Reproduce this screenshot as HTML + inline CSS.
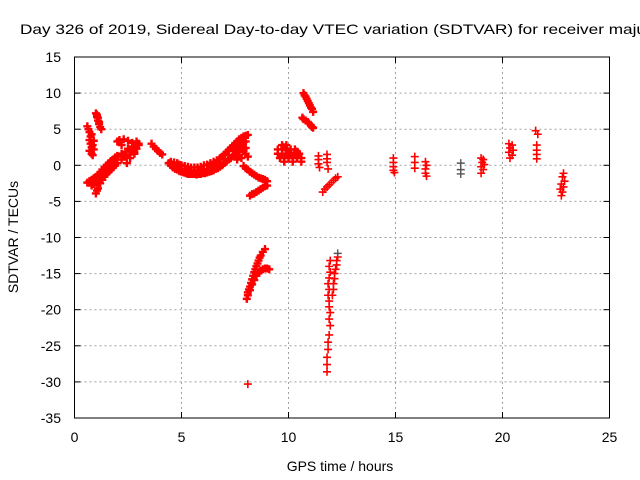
<!DOCTYPE html>
<html><head><meta charset="utf-8"><style>
html,body{margin:0;padding:0;background:#fff}
svg{display:block;font-family:"Liberation Sans",sans-serif}
</style></head><body>
<svg id="chart" width="640" height="480" viewBox="0 0 640 480" xmlns="http://www.w3.org/2000/svg">
<rect width="640" height="480" fill="#fff"/>
<text x="20" y="34" font-size="14" fill="#000" textLength="626" lengthAdjust="spacingAndGlyphs">Day 326 of 2019, Sidereal Day-to-day VTEC variation (SDTVAR) for receiver maju</text>
<g id="grid"></g><g id="marks"></g><g id="axes"></g>
<text x="340" y="471" font-size="14" text-anchor="middle">GPS time / hours</text>
<text transform="translate(18,237) rotate(-90)" font-size="14" text-anchor="middle">SDTVAR / TECUs</text>
</svg>
<script>
const xTicks=[0,5,10,15,20,25];
const yTicks=[15,10,5,0,-5,-10,-15,-20,-25,-30,-35];
const trackA=[[0.6,5.4],[0.65,5.0],[0.7,4.6],[0.75,4.0],[0.7,3.5],[0.75,3.0],[0.85,2.8],[0.9,3.4],[0.8,2.5],[0.7,2.0],[0.85,1.4],[0.8,1.6],[0.8,4.3],[0.9,2.2]];
const trackB=[[1.0,7.2],[1.05,7.0],[1.05,6.7],[1.1,6.2],[1.15,6.0],[1.15,5.7],[1.2,5.3],[1.25,5.0],[1.1,6.6]];
const trackC1=[[0.6,-2.4],[0.7,-2.2],[0.8,-2.0],[0.9,-1.8],[1.0,-1.6],[1.1,-1.3],[1.2,-1.0],[1.3,-0.6],[1.4,-0.3],[1.5,0.0],[1.6,0.3],[1.7,0.6],[1.8,0.8],[1.9,1.1],[2.0,1.3],[2.2,1.6],[2.4,1.9],[2.6,2.2],[2.8,2.5],[3.0,2.8]];
const trackC2=[[1.0,-3.9],[1.05,-3.5],[1.1,-3.2],[1.2,-2.5],[1.3,-2.0],[1.4,-1.6],[1.5,-1.2],[1.6,-0.9],[1.7,-0.6],[1.8,-0.3],[1.9,0.0],[2.0,0.3],[2.2,0.8],[2.4,1.2],[2.6,1.5],[2.8,1.8]];
const trackC3=[[0.8,-2.8],[0.9,-2.6],[1.0,-2.4],[1.1,-2.1],[1.2,-1.8],[1.3,-1.4],[1.4,-1.0],[1.5,-0.6],[1.6,-0.3],[1.7,0.0],[1.8,0.3],[2.0,0.8],[2.2,1.2],[2.4,1.5],[2.6,1.9],[2.8,2.2]];
const trackD=[[2.0,3.3],[2.1,3.5],[2.3,3.6],[2.5,3.4],[2.7,3.1],[2.9,3.3],[3.0,3.0],[2.9,2.3],[2.8,1.6],[2.6,1.0],[2.3,1.2],[2.5,2.3],[2.45,0.3],[2.7,2.6],[2.2,2.8]];
const trackE=[[3.6,3.0],[3.7,2.6],[3.8,2.3],[3.9,2.0],[4.0,1.7],[4.1,1.5]];
const trackF1=[[4.4,0.3],[4.5,0.0],[4.6,-0.3],[4.7,-0.5],[4.8,-0.6],[4.9,-0.8],[5.0,-0.9],[5.1,-1.0],[5.2,-1.1],[5.3,-1.2],[5.4,-1.2],[5.5,-1.2],[5.6,-1.2],[5.7,-1.3],[5.8,-1.2],[5.9,-1.2],[6.0,-1.1],[6.1,-1.1],[6.2,-1.0],[6.3,-0.9],[6.4,-0.8],[6.5,-0.7],[6.6,-0.5],[6.7,-0.4],[6.8,-0.2],[6.9,0.0],[7.0,0.3],[7.1,0.5],[7.2,0.8],[7.3,1.0],[7.4,1.3],[7.5,1.5],[7.6,1.8],[7.7,2.0],[7.8,2.2],[7.9,2.3],[8.0,2.4]];
const trackF2=[[4.5,0.5],[4.65,0.4],[4.8,0.3],[4.9,0.1],[5.0,0.0],[5.15,-0.1],[5.3,-0.2],[5.45,-0.3],[5.6,-0.3],[5.75,-0.3],[5.9,-0.2],[6.05,0.0],[6.2,0.1],[6.35,0.3],[6.5,0.5],[6.65,0.7],[6.8,1.0],[6.9,1.2],[7.0,1.5],[7.1,1.8],[7.2,2.1],[7.3,2.4],[7.4,2.7],[7.5,3.0],[7.6,3.3],[7.7,3.6],[7.8,3.8],[7.9,4.0],[8.0,4.1],[8.1,4.2]];
const trackF3=[[4.6,0.0],[4.8,-0.3],[5.0,-0.5],[5.2,-0.6],[5.4,-0.7],[5.6,-0.8],[5.8,-0.7],[6.0,-0.6],[6.2,-0.5],[6.4,-0.2],[6.6,0.1],[6.8,0.4],[7.0,0.8],[7.2,1.4],[7.4,2.0],[7.6,0.8],[7.6,2.5],[7.8,3.0],[7.7,1.4],[8.0,3.3],[7.9,2.0],[8.1,1.2],[7.5,2.4],[7.7,2.8],[7.9,3.2],[7.8,1.0],[8.0,1.6]];
const trackG=[[7.9,-0.1],[8.0,-0.4],[8.1,-0.6],[8.2,-0.9],[8.3,-1.1],[8.4,-1.3],[8.5,-1.5],[8.6,-1.7],[8.7,-1.8],[8.8,-1.9],[8.9,-2.0],[9.0,-2.2]];
const trackH=[[8.2,-4.2],[8.3,-4.0],[8.4,-3.9],[8.5,-3.7],[8.6,-3.5],[8.7,-3.3],[8.8,-3.1],[8.9,-2.9],[9.0,-2.8]];
const trackI=[[8.05,-18.5],[8.1,-17.6],[8.15,-17.2],[8.2,-16.8],[8.25,-16.3],[8.3,-15.8],[8.35,-15.3],[8.4,-14.8],[8.45,-14.4],[8.5,-14.0],[8.55,-13.6],[8.6,-13.2],[8.65,-12.8],[8.7,-12.5],[8.8,-12.0],[8.9,-11.6],[8.1,-18.0],[8.2,-17.3],[8.3,-16.5],[8.4,-15.9],[8.5,-15.3],[8.6,-14.9],[8.7,-14.6],[8.8,-14.4],[8.9,-14.3],[9.0,-14.3],[9.1,-14.4]];
const outliers=[[8.1,-30.3]];
const trackJ=[[9.7,2.8],[9.9,2.8],[9.5,2.2],[9.7,2.2],[9.9,2.2],[10.1,2.2],[10.3,2.2],[9.5,1.6],[9.7,1.6],[9.9,1.6],[10.1,1.6],[10.3,1.6],[10.5,1.6],[9.6,1.0],[9.8,1.0],[10.0,1.0],[10.2,1.0],[10.4,1.0],[10.6,1.0],[9.8,0.5],[10.2,0.5],[10.6,0.5],[9.8,2.5],[10.0,1.9],[10.2,1.3],[10.4,1.9]];
const trackK1=[[10.7,10.0],[10.75,9.7],[10.8,9.5],[10.85,9.2],[10.9,8.9],[10.95,8.6],[11.0,8.3],[11.05,8.0],[11.1,7.8],[11.15,7.4]];
const trackK2=[[10.65,6.6],[10.7,6.4],[10.8,6.2],[10.9,6.0],[10.95,5.8],[11.05,5.5],[11.1,5.3],[11.15,5.2]];
const trackL=[[11.4,1.3],[11.4,0.8],[11.4,0.2],[11.45,-0.3],[11.8,1.5],[11.8,0.9],[11.8,0.4],[11.85,-0.5]];
const trackM=[[11.6,-3.7],[11.7,-3.3],[11.8,-3.0],[11.9,-2.7],[12.0,-2.4],[12.1,-2.1],[12.2,-1.8],[12.3,-1.6]];
const trackN1=[[11.95,-13.2],[11.9,-14],[11.95,-14.8],[11.9,-15.6],[11.85,-16.4],[11.9,-17.2],[11.85,-18],[11.9,-18.8],[11.9,-19.6],[11.95,-20.4],[11.9,-21.3],[11.95,-22.2],[11.9,-23.5],[11.85,-24.5],[11.85,-25.5],[11.8,-26.6],[11.8,-27.6],[11.8,-28.6]];
const trackN2=[[12.3,-12.7],[12.25,-13.2],[12.25,-13.8],[12.2,-14.4],[12.15,-15.0],[12.15,-15.7],[12.1,-16.4],[12.1,-17.2],[12.05,-18]];
const trackR=[[14.9,1.0],[14.9,0.4],[14.9,-0.2],[14.9,-0.7],[14.95,-1.0],[15.9,1.2],[15.9,0.4],[15.9,-0.4],[16.4,0.5],[16.45,0],[16.4,-0.5],[16.4,-1.1],[16.45,-1.5],[19.0,1.0],[19.1,0.8],[19.05,0.4],[19.15,0.1],[19.0,-0.2],[19.1,-0.6],[19.0,-1.1],[20.3,3.0],[20.45,2.8],[20.35,2.4],[20.5,2.1],[20.3,1.8],[20.45,1.4],[20.35,1.0],[21.55,4.8],[21.65,4.3],[21.6,2.8],[21.6,2.1],[21.6,1.5],[21.6,0.9],[22.85,-1.1],[22.8,-1.6],[22.9,-2.2],[22.75,-2.6],[22.85,-3.0],[22.7,-3.3],[22.8,-3.7],[22.75,-4.2]];
const darkPts=[[12.3,-12.2],[18.05,0.3],[18.05,-0.6],[18.05,-1.2]];

const NS='http://www.w3.org/2000/svg';
const L=74.5,R=609.5,T=57,B=418;
const xS=v=>L+(v-0)/25*(R-L);
const yS=v=>T+(15-v)/50*(B-T);
function mk(tag,attrs,parent){const e=document.createElementNS(NS,tag);for(const k in attrs)e.setAttribute(k,attrs[k]);parent.appendChild(e);return e;}
const grid=document.getElementById('grid'),axes=document.getElementById('axes'),marks=document.getElementById('marks');
xTicks.forEach(t=>{const x=xS(t);
 if(t>0&&t<25){const g=mk('line',{x1:x,y1:T,x2:x,y2:B,stroke:'#a0a0a0','stroke-dasharray':'2,3'},grid);}
 mk('line',{x1:x,y1:B,x2:x,y2:B-6,stroke:'#000'},axes);mk('line',{x1:x,y1:T,x2:x,y2:T+6,stroke:'#000'},axes);
 const tx=mk('text',{x:x,y:B+24,'font-size':14,'text-anchor':'middle'},axes);tx.textContent=t;
 });
yTicks.forEach(t=>{const y=yS(t);
 if(t<15&&t>-35){const g=mk('line',{x1:L,y1:y,x2:R,y2:y,stroke:'#a0a0a0','stroke-dasharray':'2,3'},grid);}
 mk('line',{x1:L,y1:y,x2:L+6,y2:y,stroke:'#000'},axes);mk('line',{x1:R,y1:y,x2:R-6,y2:y,stroke:'#000'},axes);
 const tx=mk('text',{x:61,y:y+5,'font-size':14,'text-anchor':'end'},axes);tx.textContent=t;
 });
const frame=mk('rect',{x:L,y:T,width:R-L,height:B-T,fill:'none',stroke:'#000'},axes);

function plot(arr,color,name,w){arr.forEach(p=>{const x=xS(p[0]),y=yS(p[1]);
 const pth=mk('path',{d:`M${x-4} ${y}H${x+4}M${x} ${y-4}V${y+4}`,stroke:color,'stroke-width':w,fill:'none'},marks);
 
 });}
[trackA,trackB,trackC1,trackC2,trackC3,trackD,trackE,trackF1,trackF2,trackF3,trackG,trackH,trackI,trackJ,trackK1,trackK2].forEach(a=>plot(a,'#ff0000','sdtvar-point',2.4));
[outliers,trackL,trackM,trackN1,trackN2,trackR].forEach(a=>plot(a,'#ff0000','sdtvar-point',1.6));
plot(darkPts,'#555555','sdtvar-point-dark',1.4);
</script>
</body></html>
